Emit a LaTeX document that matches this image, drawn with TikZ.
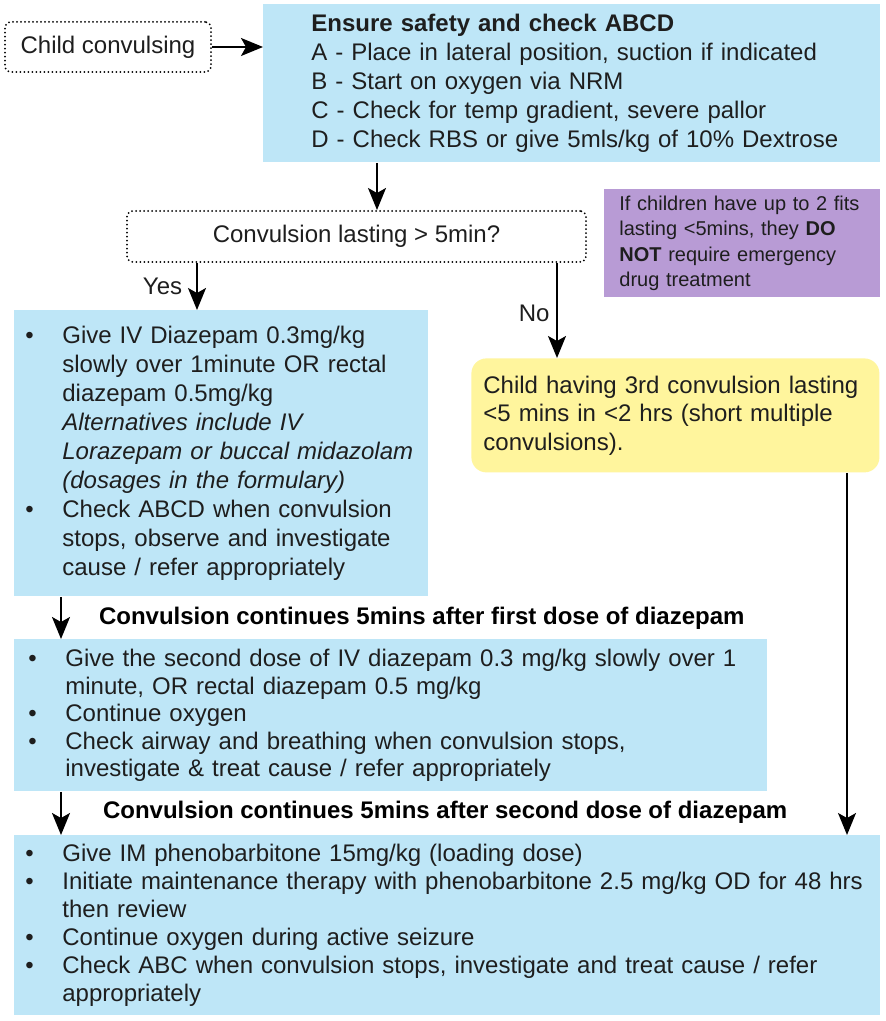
\documentclass[tikz,border=0pt]{standalone}
\usepackage{fontspec}
\setmainfont{Liberation Sans}
\usepackage{xcolor}
\usetikzlibrary{arrows.meta, positioning}

\definecolor{flowblue}{HTML}{BEE6F7}
\definecolor{flowpurple}{HTML}{B89BD5}
\definecolor{flowyellow}{HTML}{FFF59D}
\definecolor{flowtext}{HTML}{1E1E1E}

% plain line, bullet line and continuation line
\newcommand{\pline}[1]{\mbox{#1}}
\newcommand{\bitem}[1]{\makebox[18.5pt][l]{\textbullet}\mbox{#1}}
\newcommand{\citem}[1]{\makebox[18.5pt][l]{}\mbox{#1}}

\begin{document}
\begin{tikzpicture}[
  x=0.5pt, y=-0.5pt,
  >={Stealth[length=11pt, width=9pt, inset=2.5pt]},
  every node/.style={text=flowtext},
  dotbox/.style={draw, line width=1pt, dash pattern=on 0pt off 2pt, line cap=round, rounded corners=3pt, font=\fontsize{12}{14.5}\selectfont},
  bluebox/.style={rectangle, fill=flowblue, anchor=north west, align=left, inner ysep=0pt},
  notebox/.style={rectangle, fill=flowpurple, anchor=north west, align=left, inner ysep=0pt, font=\fontsize{10}{12.75}\selectfont},
  yellowbox/.style={rectangle, rounded corners=7.5pt, fill=flowyellow, anchor=north west, align=left, inner ysep=0pt, font=\fontsize{12}{14.25}\selectfont},
  head/.style={anchor=west, font=\fontsize{12}{14.5}\selectfont\bfseries, text=black},
  flow/.style={->, line width=0.9pt},
]
  \useasboundingbox (0,0) rectangle (885,1021);

  \node[dotbox, minimum width=103pt, minimum height=25pt] (start) at (108,47) {Child convulsing};
  \node[bluebox, minimum height=79pt, inner xsep=24pt, text width=260.5pt, font=\fontsize{12}{14.5}\selectfont] (abcd) at (263,4) {\pline{\bfseries Ensure safety and check ABCD}\\
    \pline{A - Place in lateral position, suction if indicated}\\
    \pline{B - Start on oxygen via NRM}\\
    \pline{C - Check for temp gradient, severe pallor}\\
    \pline{D - Check RBS or give 5mls/kg of 10\% Dextrose}};

  \node[dotbox, minimum width=229.5pt, minimum height=25.5pt] (decide) at (356.5,236.5) {Convulsion lasting > 5min?};
  \node[notebox, minimum height=54pt, inner xsep=7.5pt, text width=123pt] (note) at (604,189) {\pline{If children have up to 2 fits}\\
    \pline{lasting <5mins, they \textbf{DO}}\\
    \pline{\textbf{NOT} require emergency}\\
    \pline{drug treatment}};

  \node[bluebox, minimum height=143pt, inner xsep=5.5pt, text width=196pt, font=\fontsize{12}{14.5}\selectfont] (firstdose) at (14,310) {\bitem{Give IV Diazepam 0.3mg/kg}\\
    \citem{slowly over 1minute OR rectal}\\
    \citem{diazepam 0.5mg/kg}\\
    \citem{\itshape Alternatives include IV}\\
    \citem{\itshape Lorazepam or buccal midazolam}\\
    \citem{\itshape (dosages in the formulary)}\\
    \bitem{Check ABCD when convulsion}\\
    \citem{stops, observe and investigate}\\
    \citem{cause / refer appropriately}};

  \node[yellowbox, minimum height=57pt, inner xsep=6pt, text width=192pt] (multiple) at (471,358) {\pline{Child having 3rd convulsion lasting}\\
    \pline{<5 mins in <2 hrs (short multiple}\\
    \pline{convulsions).}};

  \node[head] (cont1) at (92,618) {Convulsion continues 5mins after first dose of diazepam};
  \node[bluebox, minimum height=76pt, inner xsep=7pt, text width=362.5pt, font=\fontsize{12}{13.75}\selectfont] (seconddose) at (14,639) {\bitem{Give the second dose of IV diazepam 0.3 mg/kg slowly over 1}\\
    \citem{minute, OR rectal diazepam 0.5 mg/kg}\\
    \bitem{Continue oxygen}\\
    \bitem{Check airway and breathing when convulsion stops,}\\
    \citem{investigate \& treat cause / refer appropriately}};

  \node[head] (cont2) at (96,812) {Convulsion continues 5mins after second dose of diazepam};
  \node[bluebox, minimum height=90pt, inner xsep=5.5pt, text width=422pt, font=\fontsize{12}{14}\selectfont] (pheno) at (14,835) {\bitem{Give IM phenobarbitone 15mg/kg (loading dose)}\\
    \bitem{Initiate maintenance therapy with phenobarbitone 2.5 mg/kg OD for 48 hrs}\\
    \citem{then review}\\
    \bitem{Continue oxygen during active seizure}\\
    \bitem{Check ABC when convulsion stops, investigate and treat cause / refer}\\
    \citem{appropriately}};

  \draw[flow] (start.east) -- (start.east -| abcd.west);
  \draw[flow] ([xshift=57pt]abcd.south west) -- ([xshift=57pt]abcd.south west |- decide.north);
  \draw[flow] ([xshift=35.5pt]decide.south west) -- node[left, font=\fontsize{12}{14}\selectfont, inner xsep=7pt]{Yes} ([xshift=35.5pt]decide.south west |- firstdose.north);
  \draw[flow] ([xshift=215.5pt]decide.south west) -- node[left, pos=.53, font=\fontsize{12}{14}\selectfont]{No} ([xshift=215.5pt]decide.south west |- multiple.north);
  \draw[flow] ([xshift=23.5pt]firstdose.south west) -- ([xshift=23.5pt]firstdose.south west |- seconddose.north);
  \draw[flow] ([xshift=23.5pt]seconddose.south west) -- ([xshift=23.5pt]seconddose.south west |- pheno.north);
  \draw[flow, line width=0.75pt] ([xshift=188pt]multiple.south west) -- ([xshift=188pt]multiple.south west |- pheno.north);

\end{tikzpicture}
\end{document}
